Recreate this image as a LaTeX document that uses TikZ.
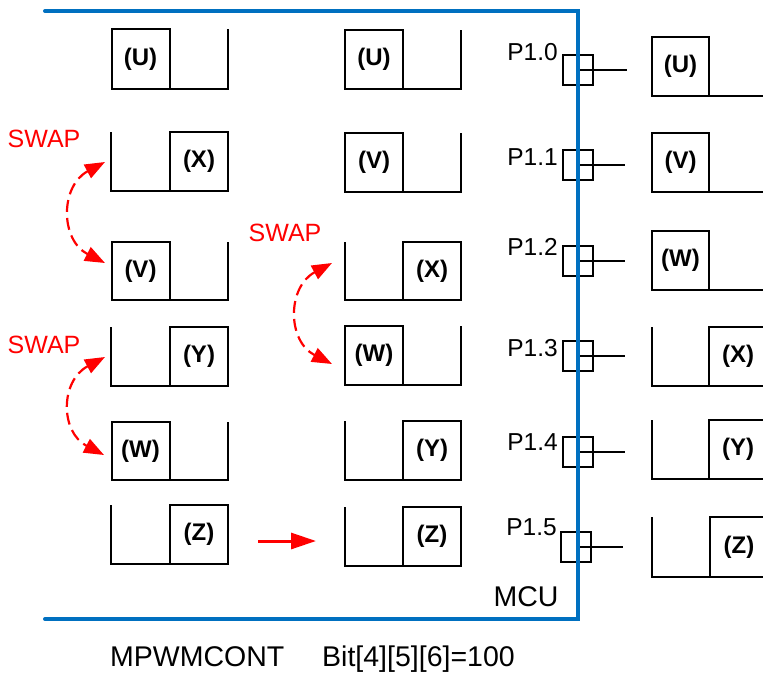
\documentclass[tikz,border=0pt]{standalone}
\usepackage{fontspec}
\setmainfont{Liberation Sans}
\usetikzlibrary{arrows.meta}
\definecolor{mcublue}{HTML}{0070C0}
\definecolor{swapred}{HTML}{FF0000}
\tikzset{
  wavebox/.style={draw, line width=2pt, inner sep=0pt, outer sep=0pt, minimum width=58pt,
    font=\fontsize{24}{28}\selectfont\bfseries},
  wline/.style={line width=2pt, line join=miter},
  portbox/.style={draw, line width=1.6pt, minimum size=30pt, inner sep=0pt, outer sep=0pt},
  pline/.style={line width=1.6pt},
  portlabel/.style={anchor=east, inner sep=0pt, font=\fontsize{24.5}{28}\selectfont},
  swaplabel/.style={inner sep=0pt, text=swapred, font=\fontsize{25}{29}\selectfont},
  swaparrow/.style={swapred, line width=2.2pt, dash pattern=on 12pt off 6pt,
    {Triangle[length=20pt,width=15pt]}-{Triangle[length=20pt,width=15pt]}},
  movearrow/.style={swapred, line width=3pt, -{Triangle[length=25pt,width=16pt]}},
  bigtext/.style={inner sep=0pt, font=\fontsize{28.5}{32}\selectfont},
  frame/.style={mcublue, line width=4pt, line cap=round}
}
\begin{document}
\begin{tikzpicture}[x=1pt, y=-1pt]
\useasboundingbox (0,0) rectangle (763,677);
\clip (0,0) rectangle (763,677);

% ---------- column 1 ----------
\node[wavebox, minimum height=60pt] (c1u) at (140.5,59) {(U)};
\draw[wline] (c1u.south east) -- (228,89) -- (228,29);
\node[wavebox, minimum height=59pt] (c1x) at (199,161.5) {(X)};
\draw[wline] (111,132) -- (111,191) -- (c1x.south west);
\node[wavebox, minimum height=58pt] (c1v) at (140.5,271) {(V)};
\draw[wline] (c1v.south east) -- (228,300) -- (228,242);
\node[wavebox, minimum height=59pt] (c1y) at (199,356.5) {(Y)};
\draw[wline] (111,327) -- (111,386) -- (c1y.south west);
\node[wavebox, minimum height=58pt] (c1w) at (140.5,451) {(W)};
\draw[wline] (c1w.south east) -- (228,480) -- (228,422);
\node[wavebox, minimum height=59pt] (c1z) at (199,534.5) {(Z)};
\draw[wline] (111,505) -- (111,564) -- (c1z.south west);

% ---------- column 2 ----------
\node[wavebox, minimum height=59pt] (c2u) at (374,59.5) {(U)};
\draw[wline] (c2u.south east) -- (461,89) -- (461,30);
\node[wavebox, minimum height=59pt] (c2v) at (374,162.5) {(V)};
\draw[wline] (c2v.south east) -- (461,192) -- (461,133);
\node[wavebox, minimum height=58pt] (c2x) at (432,271) {(X)};
\draw[wline] (345,242) -- (345,300) -- (c2x.south west);
\node[wavebox, minimum height=59pt] (c2w) at (374,355.5) {(W)};
\draw[wline] (c2w.south east) -- (461,385) -- (461,326);
\node[wavebox, minimum height=59pt] (c2y) at (432,450.5) {(Y)};
\draw[wline] (345,421) -- (345,480) -- (c2y.south west);
\node[wavebox, minimum height=59pt] (c2z) at (432,536.5) {(Z)};
\draw[wline] (345,507) -- (345,566) -- (c2z.south west);

% ---------- column 3 ----------
\node[wavebox, minimum width=57pt, minimum height=59pt] (c3u) at (680.5,66.5) {(U)};
\draw[wline] (c3u.south east) -- (767,96) -- (767,37);
\node[wavebox, minimum width=57pt, minimum height=59pt] (c3v) at (680.5,162.5) {(V)};
\draw[wline] (c3v.south east) -- (767,192) -- (767,133);
\node[wavebox, minimum width=57pt, minimum height=59pt] (c3w) at (680.5,260.5) {(W)};
\draw[wline] (c3w.south east) -- (767,290) -- (767,231);
\node[wavebox, minimum width=58pt, minimum height=59pt] (c3x) at (738,356.5) {(X)};
\draw[wline] (652,327) -- (652,386) -- (c3x.south west);
\node[wavebox, minimum width=58pt, minimum height=59pt] (c3y) at (738,449.5) {(Y)};
\draw[wline] (652,420) -- (652,479) -- (c3y.south west);
\node[wavebox, minimum width=58pt, minimum height=60pt] (c3z) at (739,547) {(Z)};
\draw[wline] (652,517) -- (652,577) -- (c3z.south west);

% ---------- ports ----------
\node[portbox] (p0) at (578,70) {};
\node[portbox] (p1) at (578,165) {};
\node[portbox] (p2) at (578,261) {};
\node[portbox] (p3) at (578,356) {};
\node[portbox] (p4) at (578,452) {};
\node[portbox] (p5) at (576,547) {};
\draw[pline] (p0.center) -- ++(49,0);
\draw[pline] (p1.center) -- ++(47,0);
\draw[pline] (p2.center) -- ++(47,0);
\draw[pline] (p3.center) -- ++(47,0);
\draw[pline] (p4.center) -- ++(47,0);
\draw[pline] (p5.center) -- ++(47,0);
\node[portlabel] (l0) at (558,52.5) {P1.0};
\node[portlabel] (l1) at (558,157) {P1.1};
\node[portlabel] (l2) at (558,246.5) {P1.2};
\node[portlabel] (l3) at (558,348) {P1.3};
\node[portlabel] (l4) at (558,442) {P1.4};
\node[portlabel] (l5) at (557,527) {P1.5};

% ---------- MCU frame ----------
\draw[frame] (45,11) -- (578,11) -- (578,619) -- (45,619);
\node[bigtext] (mcu) at (526,596.5) {MCU};
\node[bigtext, anchor=base west] (reg) at (110,666) {MPWMCONT};
\node[bigtext, anchor=base west] (bits) at (322,666) {Bit[4][5][6]=100};

% ---------- swaps ----------
\coordinate (s1a) at (105,162);
\coordinate (s1b) at (105,263);
\coordinate (s2a) at (105,357);
\coordinate (s2b) at (104,455);
\coordinate (s3a) at (332,263);
\coordinate (s3b) at (332,364);
\draw[swaparrow] (s1a) .. controls (60,186) and (60,240) .. (s1b);
\draw[swaparrow] (s2a) .. controls (60,381) and (60,432) .. (s2b);
\draw[swaparrow] (s3a) .. controls (287,287) and (287,341) .. (s3b);
\node[swaplabel] (sw1) at (44,139) {SWAP};
\node[swaplabel] (sw2) at (44,345) {SWAP};
\node[swaplabel] (sw3) at (285,233) {SWAP};

\coordinate (m1) at (258,541);
\coordinate (m2) at (316,541);
\draw[movearrow] (m1) -- (m2);
\end{tikzpicture}
\end{document}
